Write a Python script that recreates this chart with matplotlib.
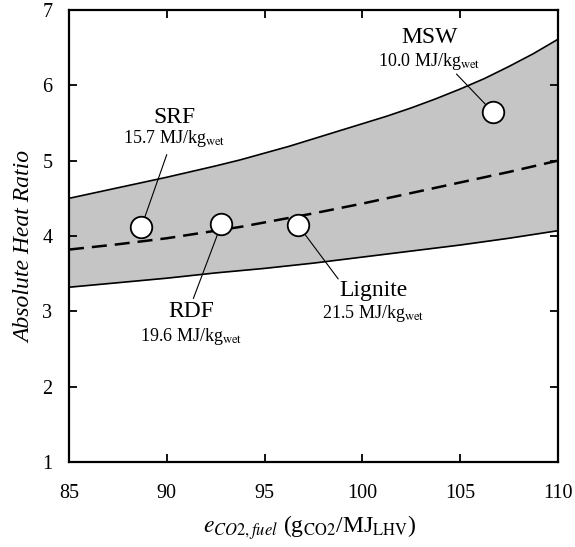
import matplotlib

matplotlib.use("Agg")
import matplotlib.pyplot as plt  # noqa: E402

plt.rcParams["font.family"] = ["Liberation Serif", "DejaVu Serif"]
plt.rcParams["mathtext.fontset"] = "stix"

# band curves
e_co2 = [85.0, 86.25, 87.5, 88.75, 90.0, 91.25, 92.5, 93.75, 95.0, 96.25, 97.5,
         98.75, 100.0, 101.25, 102.5, 103.75, 105.0, 106.25, 107.5, 108.75, 110.0]
ratio_upper = [4.50, 4.57, 4.64, 4.71, 4.78, 4.855, 4.93, 5.01, 5.10, 5.19, 5.29,
               5.39, 5.49, 5.59, 5.70, 5.82, 5.95, 6.09, 6.25, 6.42, 6.61]
ratio_mid = [3.82, 3.855, 3.89, 3.93, 3.97, 4.02, 4.07, 4.12, 4.18, 4.24, 4.30,
             4.365, 4.43, 4.50, 4.57, 4.64, 4.71, 4.78, 4.85, 4.925, 5.00]
ratio_lower = [3.32, 3.35, 3.38, 3.41, 3.44, 3.475, 3.51, 3.54, 3.57, 3.605, 3.64,
               3.68, 3.72, 3.76, 3.80, 3.84, 3.88, 3.925, 3.97, 4.02, 4.07]

# fuels
fuel_names = ["SRF", "RDF", "Lignite", "MSW"]
fuel_lhv = ["15.7", "19.6", "21.5", "10.0"]
fuel_x = [88.7, 92.8, 96.7, 106.7]
fuel_y = [4.12, 4.16, 4.15, 5.64]

# label placement (data coords): name, value line, leader start
name_pos = [(90.4, 5.57), (91.25, 3.00), (100.55, 3.28), (103.45, 6.64)]
lhv_pos = [(90.4, 5.30), (91.25, 2.66), (100.55, 2.97), (103.45, 6.32)]
leader_start = [(90.0, 5.08), (91.36, 3.17), (98.77, 3.43), (104.82, 6.15)]

fig = plt.figure(figsize=(5.75, 5.47), dpi=100)
ax = fig.add_axes([0.12, 0.1554, 0.85, 0.8263])

ax.fill_between(e_co2, ratio_lower, ratio_upper, color="#c6c5c6", lw=0, zorder=1)
ax.plot(e_co2, ratio_upper, color="black", lw=1.2, zorder=2)
ax.plot(e_co2, ratio_lower, color="black", lw=1.2, zorder=2)
ax.plot(e_co2, ratio_mid, color="black", lw=1.8, dashes=(6.0, 3.2), zorder=2)

for i, name in enumerate(fuel_names):
    ax.annotate(
        "",
        xy=(fuel_x[i], fuel_y[i]),
        xytext=leader_start[i],
        arrowprops=dict(arrowstyle="-", color="black", lw=0.8, shrinkA=0, shrinkB=7.5),
        zorder=3,
    )
    ax.text(name_pos[i][0], name_pos[i][1], name, fontsize=17, ha="center", va="center")
    ax.text(
        lhv_pos[i][0],
        lhv_pos[i][1],
        fuel_lhv[i] + r" MJ/kg$_{\mathrm{wet}}$",
        fontsize=13,
        ha="center",
        va="center",
    )

ax.plot(
    fuel_x, fuel_y, "o", ms=15.5, mfc="white", mec="black", mew=1.3, ls="none", zorder=4
)

ax.set_xlim(85, 110)
ax.set_ylim(1, 7)
ax.set_xticks([85, 90, 95, 100, 105, 110])
ax.set_yticks([1, 2, 3, 4, 5, 6, 7])
ax.tick_params(direction="in", top=True, right=True, length=6, width=1.3, labelsize=14.5)
ax.tick_params(axis="x", pad=16)
ax.tick_params(axis="y", pad=12)
for sp in ax.spines.values():
    sp.set_linewidth(1.6)

ax.set_ylabel("Absolute Heat Ratio", fontsize=17, style="italic")
ax.yaxis.set_label_coords(-0.09, 0.476)
ax.yaxis.label.set_va("center")
ax.set_xlabel(r"$e_{CO2,fuel}$ (g$_{\mathrm{CO2}}$/MJ$_{\mathrm{LHV}}$)", fontsize=17)
ax.xaxis.set_label_coords(0.493, -0.146)
ax.xaxis.label.set_va("center")

fig.savefig("out.png", dpi=100)
